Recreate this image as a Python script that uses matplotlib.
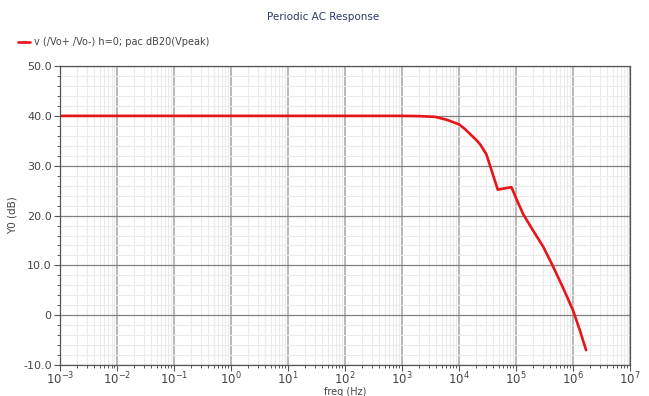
import matplotlib
matplotlib.use("Agg")
import matplotlib.pyplot as plt
import numpy as np
from matplotlib.ticker import LogLocator, MultipleLocator, FixedLocator

# log10(freq) and gain in dB
log_freq = [-3.0, 1.0, 3.0, 3.3, 3.58, 3.79, 4.0, 4.1, 4.2, 4.3, 4.37, 4.48, 4.68, 4.92,
            5.02, 5.13, 5.3, 5.48, 5.65, 5.83, 6.0, 6.12, 6.23]
gain_db = [40.0, 40.0, 40.0, 39.95, 39.8, 39.2, 38.3, 37.4, 36.3, 35.2, 34.3, 32.3, 25.2, 25.7,
           23.0, 20.2, 17.0, 13.7, 9.8, 5.4, 1.0, -3.0, -7.0]
freq = [10 ** v for v in log_freq]

y_ticks = [-10, 0, 10, 20, 30, 40, 50]
y_labels = ["-10.0", "0", "10.0", "20.0", "30.0", "40.0", "50.0"]
x_ticks = [10.0 ** k for k in range(-3, 8)]
x_labels = [f"$10^{{{k}}}$" for k in range(-3, 8)]

txt = "#444444"

fig = plt.figure(figsize=(6.49, 3.96), dpi=100)
ax = fig.add_axes([0.0925, 0.078, 0.8782, 0.7553])

ax.plot(freq, gain_db, color="#e8141a", linewidth=1.9, solid_capstyle="round")

ax.set_xscale("log")
ax.set_xlim(1e-3, 1e7)
ax.set_ylim(-10, 50)

ax.xaxis.set_major_locator(FixedLocator(x_ticks))
ax.set_xticklabels(x_labels)
ax.xaxis.set_minor_locator(LogLocator(base=10, subs=np.arange(2, 10), numticks=100))
ax.yaxis.set_major_locator(FixedLocator(y_ticks))
ax.set_yticklabels(y_labels)
ax.yaxis.set_minor_locator(MultipleLocator(2))

ax.grid(True, which="major", axis="y", color="#808080", linewidth=0.9)
ax.grid(True, which="major", axis="x", color="#b8b8b8", linewidth=1.4)
ax.grid(True, which="minor", color="#ebebeb", linewidth=0.8)
ax.set_axisbelow(True)

for s in ax.spines.values():
    s.set_color("#555555")
    s.set_linewidth(0.9)

ax.tick_params(which="major", direction="out", length=4, width=0.8, color="#555555",
               labelsize=8, labelcolor=txt, pad=2)
ax.tick_params(which="minor", direction="out", length=2, width=0.7, color="#555555")
ax.tick_params(axis="x", labelsize=8.5, pad=0)

ax.set_xlabel("freq (Hz)", fontsize=7, color=txt, labelpad=-0.5)
ax.set_ylabel("Y0 (dB)", fontsize=7.5, color=txt, labelpad=4)

fig.text(0.498, 0.958, "Periodic AC Response", ha="center", va="center",
         fontsize=7.5, color="#2b3a67")

fig.legend(["v (/Vo+ /Vo-) h=0; pac dB20(Vpeak)"], loc="center left",
           bbox_to_anchor=(0.015, 0.893), frameon=False, fontsize=7,
           handlelength=1.2, handletextpad=0.4, labelcolor=txt)

fig.savefig("out.png", dpi=100)
